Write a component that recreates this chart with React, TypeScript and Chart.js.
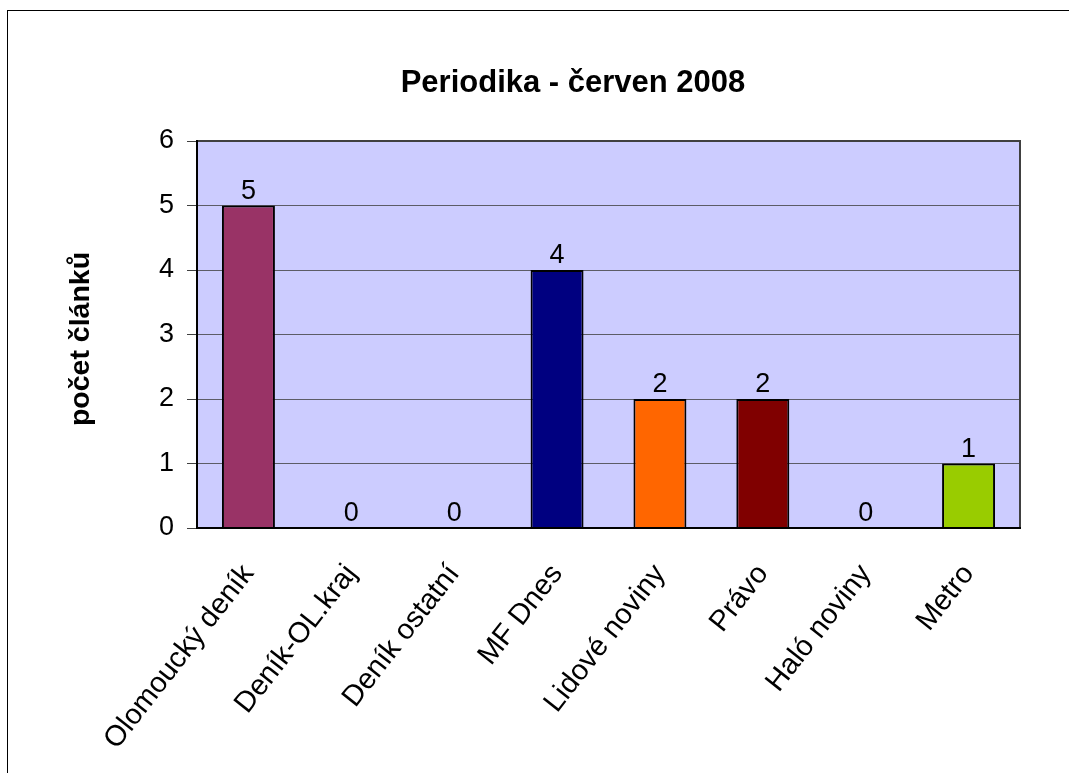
import React, { useEffect, useRef } from 'react';
import { Chart, registerables } from 'chart.js';

Chart.register(...registerables);

const TITLE = 'Periodika - červen 2008';
const Y_TITLE = 'počet článků';
const categories = [
  'Olomoucký deník',
  'Deník-OL.kraj',
  'Deník ostatní',
  'MF Dnes',
  'Lidové noviny',
  'Právo',
  'Haló noviny',
  'Metro',
];
const values = [5, 0, 0, 4, 2, 2, 0, 1];
const barColors = ['#993366', '#CCFFFF', '#FFFFCC', '#000080', '#FF6600', '#800000', '#CCCCFF', '#99CC00'];
const yMin = 0;
const yMax = 6;
const yStep = 1;

const FONT = '"Liberation Sans", Arial, Helvetica, sans-serif';

const decorPlugin = {
  id: 'decor',
  beforeDraw(chart: any) {
    const { ctx, chartArea } = chart;
    const { left, top, right, bottom } = chartArea;
    ctx.save();
    ctx.fillStyle = '#ffffff';
    ctx.fillRect(0, 0, chart.width, chart.height);
    ctx.strokeStyle = '#000000';
    ctx.lineWidth = 1;
    ctx.strokeRect(7.5, 10.5, chart.width + 40, chart.height + 40);
    ctx.fillStyle = '#CCCCFF';
    ctx.fillRect(left, top, right - left, bottom - top);
    ctx.restore();
  },
  afterDatasetsDraw(chart: any) {
    const { ctx } = chart;
    const meta = chart.getDatasetMeta(0);
    ctx.save();
    ctx.fillStyle = '#000';
    ctx.font = `27px ${FONT}`;
    ctx.textAlign = 'center';
    ctx.textBaseline = 'alphabetic';
    meta.data.forEach((bar: any, i: number) => {
      ctx.fillText(String(values[i]), bar.x, bar.y - 7);
    });
    ctx.restore();
  },
  afterDraw(chart: any) {
    const { ctx, chartArea } = chart;
    const { left, top, right, bottom } = chartArea;
    ctx.save();
    // top & right frame
    ctx.strokeStyle = '#404040';
    ctx.lineWidth = 2;
    ctx.beginPath();
    ctx.moveTo(left, top);
    ctx.lineTo(right, top);
    ctx.lineTo(right, bottom);
    ctx.stroke();
    // axes
    ctx.strokeStyle = '#000';
    ctx.lineWidth = 2;
    ctx.beginPath();
    ctx.moveTo(left, top - 1);
    ctx.lineTo(left, bottom);
    ctx.lineTo(right + 1, bottom);
    ctx.stroke();
    // title
    ctx.fillStyle = '#000';
    ctx.font = `bold 31px ${FONT}`;
    ctx.textAlign = 'center';
    ctx.textBaseline = 'alphabetic';
    ctx.fillText(TITLE, 573, 92);
    // y axis title
    ctx.translate(89, 339);
    ctx.rotate(-Math.PI / 2);
    ctx.font = `bold 28.5px ${FONT}`;
    ctx.fillText(Y_TITLE, 0, 0);
    ctx.restore();
  },
};

export default function App() {
  const ref = useRef<HTMLCanvasElement>(null);
  useEffect(() => {
    const canvas = ref.current;
    if (!canvas) return;
    const chart = new Chart(canvas, {
      type: 'bar',
      data: {
        labels: categories,
        datasets: [
          {
            data: values,
            backgroundColor: barColors,
            borderColor: '#000',
            borderWidth: (c: any) => (c.raw === 0 ? 0 : 2),
            barPercentage: 0.515,
            categoryPercentage: 1,
          },
        ],
      },
      options: {
        responsive: false,
        animation: false,
        devicePixelRatio: 1,
        layout: { padding: { top: 141, right: 49, bottom: 0, left: 0 } },
        plugins: {
          legend: { display: false },
          title: { display: false },
          tooltip: { enabled: false },
        },
        scales: {
          x: {
            grid: { display: false, drawTicks: false },
            border: { display: true, color: '#000', width: 2 },
            ticks: {
              color: '#000',
              font: { family: FONT, size: 29 },
              minRotation: 52,
              maxRotation: 52,
              padding: 30,
              autoSkip: false,
            },
            afterFit: (s: any) => {
              s.height = 245;
            },
          },
          y: {
            min: yMin,
            max: yMax,
            ticks: {
              stepSize: yStep,
              color: '#000',
              font: { family: FONT, size: 27 },
              padding: 13,
            },
            grid: {
              color: '#5c5c66',
              lineWidth: 1,
              tickLength: 10,
              tickColor: '#404040',
              drawTicks: true,
            },
            border: { display: true, color: '#000', width: 2 },
            afterFit: (s: any) => {
              s.width = 197;
            },
          },
        },
      },
      plugins: [decorPlugin],
    } as any);
    return () => chart.destroy();
  }, []);
  return (
    <div style={{ position: 'fixed', left: 0, top: 0, width: 1069, height: 773, background: '#fff' }}>
      <canvas ref={ref} width={1069} height={773} style={{ display: 'block', width: 1069, height: 773 }} />
    </div>
  );
}
